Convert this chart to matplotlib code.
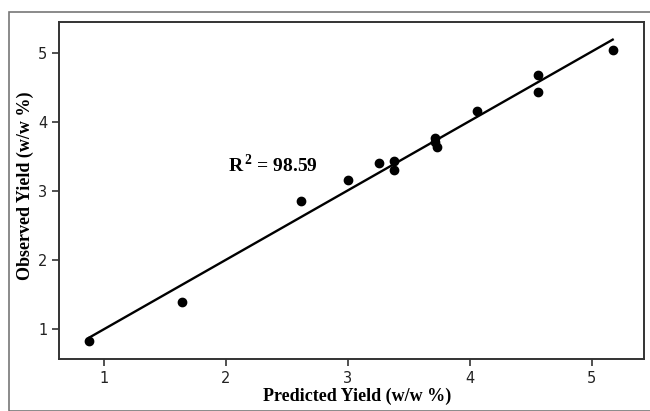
import numpy as np
import matplotlib
matplotlib.use("Agg")
import matplotlib.pyplot as plt
from matplotlib.patches import Rectangle

predicted = [0.878, 1.636, 2.619, 3.003, 3.252, 3.378, 3.378, 3.718, 3.718, 3.728, 4.058, 4.561, 4.561, 5.173]
observed = [0.83, 1.39, 2.852, 3.156, 3.397, 3.436, 3.296, 3.769, 3.711, 3.639, 4.160, 4.671, 4.425, 5.029]
xticks = [1, 2, 3, 4, 5]
yticks = [1, 2, 3, 4, 5]
r2_text = "98.59"

plt.rcParams['mathtext.fontset'] = 'custom'
plt.rcParams['mathtext.bf'] = 'Liberation Serif:bold'
plt.rcParams['mathtext.rm'] = 'Liberation Serif:bold'

fig = plt.figure(figsize=(6.5, 4.11), dpi=100)
fig.patches.append(Rectangle((9/650, 0), 1.2, (411-11.7)/411, transform=fig.transFigure,
                             fill=False, edgecolor='#777777', linewidth=1.2))
ax = fig.add_axes([59/650, 1-359/411, (644-59)/650, (359-22.5)/411])

x = np.array(predicted)
y = np.array(observed)
m, b = np.polyfit(x, y, 1)
xl = np.array([x.min(), x.max()])
ax.plot(xl, m*xl + b, color='black', lw=1.7, zorder=2)
ax.scatter(x, y, s=36, color='black', zorder=3)

ax.set_xlim(0.629, 5.43)
ax.set_ylim(0.566, 5.434)
ax.set_xticks(xticks)
ax.set_yticks(yticks)
ax.set_xticklabels([str(t) for t in xticks], fontfamily='DejaVu Sans', fontsize=10.5, color='#222222')
ax.set_yticklabels([str(t) for t in yticks], fontfamily='DejaVu Sans', fontsize=10.5, color='#222222')
ax.tick_params(direction='out', length=5, width=1.2, colors='#333333', labelcolor='#222222')
for s in ax.spines.values():
    s.set_linewidth(1.4)
    s.set_color('#333333')

ax.set_xlabel('Predicted Yield (w/w %)', fontfamily='Liberation Serif', fontweight='bold', fontsize=13)
ax.set_ylabel('Observed Yield (w/w %)', fontfamily='Liberation Serif', fontweight='bold', fontsize=13)
ax.xaxis.set_label_coords(0.51, -0.085)
ax.yaxis.set_label_coords(-0.042, 0.515)

ax.text(2.017, 3.37, r'$\mathbf{R}^{\,\mathbf{2}}$' + ' = ' + r2_text, fontfamily='Liberation Serif', fontweight='bold',
        fontsize=14, va='center', ha='left')

fig.savefig('out.png', dpi=100)
